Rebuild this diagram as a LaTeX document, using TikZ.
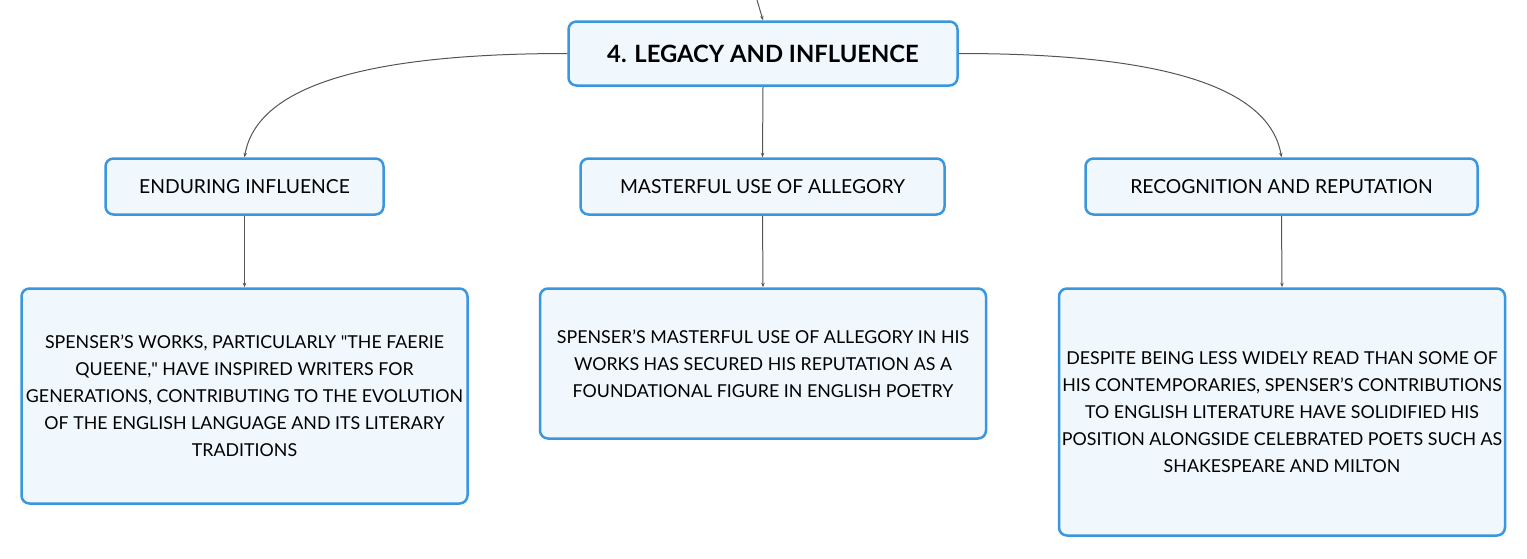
\documentclass[tikz,border=0pt]{standalone}
\usepackage{fontspec}
\setmainfont{Lato}
\usetikzlibrary{arrows.meta, calc}

\definecolor{boxblue}{HTML}{3A97DD}
\definecolor{boxfill}{HTML}{F0F7FD}
\definecolor{linegray}{HTML}{555555}

\tikzset{
  card/.style = {rectangle, draw = boxblue, fill = boxfill, line width = 2.5pt,
    rounded corners = 8pt, inner sep = 0pt, align = center, text = black},
  rootbox/.style = {card, minimum width = 389pt, minimum height = 64pt,
    font = \fontsize{23.8}{28}\selectfont\bfseries},
  topicbox/.style = {card, minimum height = 56pt, font = \fontsize{19.3}{22}\selectfont},
  notebox/.style = {card, minimum width = 446pt, font = \fontsize{17.8}{27}\selectfont},
  link/.style = {draw = linegray, line width = 1pt, -{Stealth[length=4.5pt, width=3.5pt]}}
}

\begin{document}
\begin{tikzpicture}[x = 1pt, y = -1pt]
    \useasboundingbox (0,0) rectangle (1527,558);

    % central topic
    \coordinate (top) at (757,0);
    \node[rootbox] (legacy) at (763,53.5){4. LEGACY AND INFLUENCE};

    % sub topics
    \node[
    topicbox,
    minimum width = 278pt
    ] (enduring) at (244.5,186.5){ENDURING INFLUENCE};
    \node[
    topicbox,
    minimum width = 364pt
    ] (allegory) at (762.5,186.5){MASTERFUL USE OF ALLEGORY};
    \node[
    topicbox,
    minimum width = 392pt
    ] (recognition) at (1281.5,186.5){RECOGNITION AND REPUTATION};

    % notes
    \node[
    notebox,
    minimum height = 215pt
    ] (enduringnote) at (244.5,396){SPENSER'S WORKS, PARTICULARLY \textquotedbl THE FAERIE\\
      QUEENE,\textquotedbl{} HAVE INSPIRED WRITERS FOR\\
      GENERATIONS, CONTRIBUTING TO THE EVOLUTION\\
      OF THE ENGLISH LANGUAGE AND ITS LITERARY\\
      TRADITIONS};
    \node[
    notebox,
    minimum height = 150pt
    ] (allegorynote) at (763,363.5){SPENSER'S MASTERFUL USE OF ALLEGORY IN HIS\\
      WORKS HAS SECURED HIS REPUTATION AS A\\
      FOUNDATIONAL FIGURE IN ENGLISH POETRY};
    \node[
    notebox,
    minimum height = 247pt
    ] (recognitionnote) at (1282,412){DESPITE BEING LESS WIDELY READ THAN SOME OF\\
      HIS CONTEMPORARIES, SPENSER'S CONTRIBUTIONS\\
      TO ENGLISH LITERATURE HAVE SOLIDIFIED HIS\\
      POSITION ALONGSIDE CELEBRATED POETS SUCH AS\\
      SHAKESPEARE AND MILTON};

    % connectors
    \draw[link] (top) to (legacy.north);
    \draw[link] (legacy.west) .. controls ($(legacy.west) + (-190,0)$) and ($(enduring.north) + (13,-75)$) .. (enduring.north);
    \draw[link] (legacy.south) to (allegory.north);
    \draw[link] (legacy.east) .. controls ($(legacy.east) + (190,0)$) and ($(recognition.north) + (-13,-75)$) .. (recognition.north);
    \draw[link] (enduring.south) to (enduringnote.north);
    \draw[link] (allegory.south) to (allegorynote.north);
    \draw[link] (recognition.south) to (recognitionnote.north);
  \end{tikzpicture}
\end{document}
